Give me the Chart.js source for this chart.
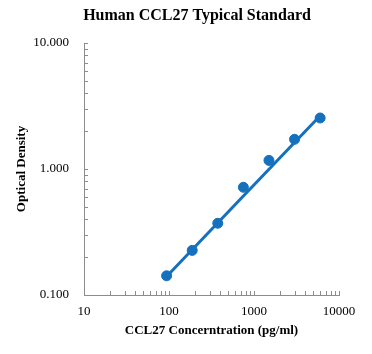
<!DOCTYPE html>
<html>
<head>
<meta charset="utf-8">
<script src="https://cdn.jsdelivr.net/npm/chart.js@4.4.1/dist/chart.umd.min.js"></script>
<style>
  html, body { margin: 0; padding: 0; background: #fff; }
  #wrap { width: 372px; height: 354px; }
</style>
</head>
<body>
<div id="wrap"><canvas id="std_canvas"></canvas></div>
<script>
// standard points (pg/ml vs OD)
const concentrations = [93.75, 187.5, 375, 750, 1500, 3000, 6000];
const odValues = [0.142, 0.226, 0.371, 0.716, 1.17, 1.72, 2.54];

// fitted line
const fitX = [93.75, 750, 6000];
const fitY = [0.14, 0.61, 2.65];

const xTicks = [10, 100, 1000, 10000];
const yTicks = [0.1, 1, 10];
const yTickLabels = ['0.100', '1.000', '10.000'];

const chartTitle = 'Human CCL27 Typical Standard';

const blue = '#1570BE';
const axisGray = '#8c8c8c';
const serif = "'Liberation Serif', 'Times New Roman', serif";

// title sits a bit right of the canvas centre in the original
const titlePlugin = {
  id: 'titlePlugin',
  afterDraw(chart) {
    const c = chart.ctx;
    c.save();
    c.fillStyle = '#000';
    c.font = 'bold 16px ' + serif;
    c.textAlign = 'center';
    c.textBaseline = 'middle';
    c.fillText(chartTitle, chart.width / 2 + 11, 16);
    c.restore();
  }
};

// small inside tick marks (major + minor) like the excel chart
const insideTicks = {
  id: 'insideTicks',
  afterDraw(chart) {
    const c = chart.ctx;
    const xs = chart.scales.x, ys = chart.scales.y;
    const area = chart.chartArea;
    c.save();
    c.strokeStyle = axisGray;
    c.lineWidth = 1;
    c.beginPath();
    for (let d = 10; d <= 10000; d *= 10) {
      for (let m = 1; m <= 9; m++) {
        const v = d * m;
        if (v > 10000) break;
        const px = Math.round(xs.getPixelForValue(v)) + 0.5;
        c.moveTo(px, area.bottom);
        c.lineTo(px, area.bottom - 4);
      }
    }
    for (let d = 0.1; d <= 10.0001; d *= 10) {
      for (let m = 1; m <= 9; m++) {
        const v = d * m;
        if (v > 10.0001) break;
        const py = Math.round(ys.getPixelForValue(v)) + 0.5;
        c.moveTo(area.left, py);
        c.lineTo(area.left + 4, py);
      }
    }
    c.stroke();
    c.restore();
  }
};

const config = {
  type: 'scatter',
  data: {
    datasets: [{
      label: 'Fit',
      data: fitX.map((x, i) => ({ x: x, y: fitY[i] })),
      showLine: true,
      borderColor: blue,
      borderWidth: 3,
      pointRadius: 0,
      order: 2
    }, {
      label: 'Standard',
      data: concentrations.map((x, i) => ({ x: x, y: odValues[i] })),
      backgroundColor: blue,
      borderColor: blue,
      pointRadius: 5,
      order: 1
    }]
  },
  options: {
    responsive: true,
    maintainAspectRatio: false,
    animation: false,
    layout: { padding: { left: 0, right: 33, top: 43, bottom: 0 } },
    plugins: {
      legend: { display: false },
      tooltip: { enabled: false },
      title: { display: false }
    },
    scales: {
      x: {
        type: 'logarithmic',
        min: 10,
        max: 10000,
        afterBuildTicks: s => { s.ticks = xTicks.map(v => ({ value: v })); },
        afterFit: s => { s.height = 59; },
        grid: { display: false, drawTicks: false },
        border: { display: true, color: axisGray, width: 1 },
        ticks: {
          color: '#000',
          padding: 9,
          maxRotation: 0,
          font: { family: serif, size: 13 },
          callback: v => String(v)
        },
        title: {
          display: true,
          text: 'CCL27 Concerntration (pg/ml)',
          color: '#000',
          font: { family: serif, size: 13, weight: 'bold' },
          padding: { top: 0, bottom: 16 }
        }
      },
      y: {
        type: 'logarithmic',
        min: 0.1,
        max: 10,
        afterBuildTicks: s => { s.ticks = yTicks.map(v => ({ value: v })); },
        afterFit: s => { s.width = 84; },
        grid: { display: false, drawTicks: false },
        border: { display: true, color: axisGray, width: 1 },
        ticks: {
          color: '#000',
          padding: 15,
          font: { family: serif, size: 13 },
          callback: (v, i) => yTickLabels[i]
        },
        title: {
          display: true,
          text: 'Optical Density',
          color: '#000',
          font: { family: serif, size: 13, weight: 'bold' },
          padding: { top: 14, bottom: 0 }
        }
      }
    }
  },
  plugins: [insideTicks, titlePlugin]
};

const ctx = document.getElementById('std_canvas').getContext('2d');
const myChart = new Chart(ctx, config);
</script>
</body>
</html>
